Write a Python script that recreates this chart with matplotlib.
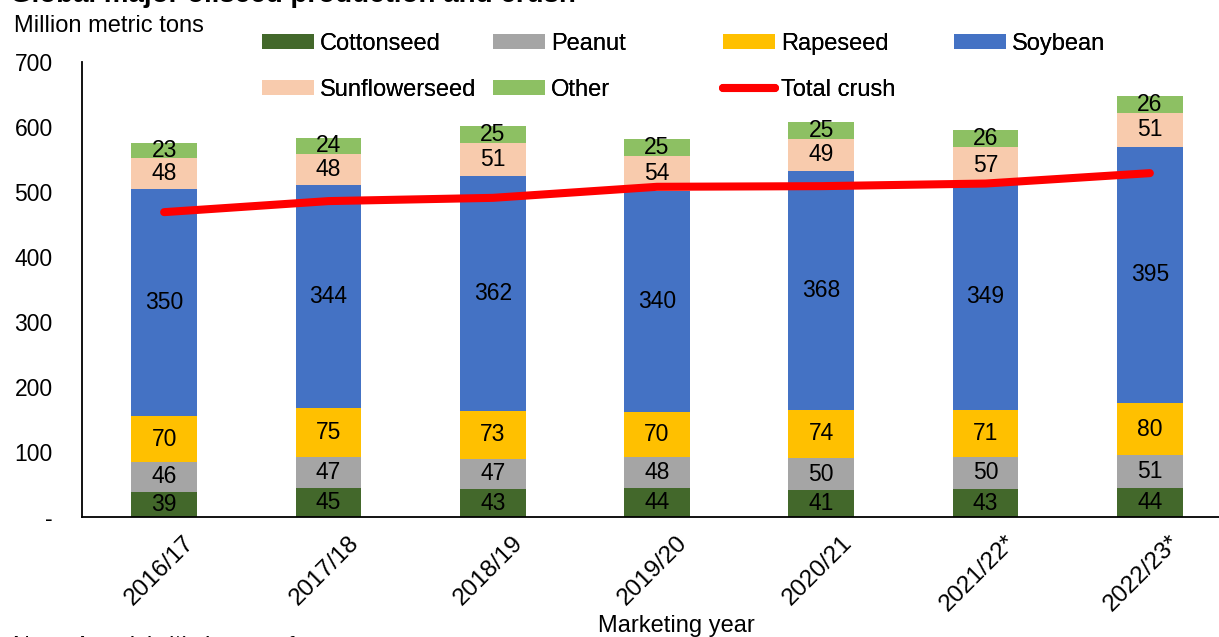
"""Stacked oilseed production bars with the total crush line."""

import matplotlib

matplotlib.use("Agg")
import matplotlib.pyplot as plt
import matplotlib.transforms as mtransforms
import numpy as np
from matplotlib.lines import Line2D
from matplotlib.patches import Patch

years = ["2016/17", "2017/18", "2018/19", "2019/20", "2020/21", "2021/22*", "2022/23*"]
cottonseed = [39, 45, 43, 44, 41, 43, 44]
peanut = [46, 47, 47, 48, 50, 50, 51]
rapeseed = [70, 75, 73, 70, 74, 71, 80]
soybean = [350, 344, 362, 340, 368, 349, 395]
sunflowerseed = [48, 48, 51, 54, 49, 57, 51]
other = [23, 24, 25, 25, 25, 26, 26]
total_crush = [469, 486, 491, 508, 509, 513, 529]

ytick_values = [0, 100, 200, 300, 400, 500, 600, 700]
ytick_labels = ["-", "100", "200", "300", "400", "500", "600", "700"]

series = [
    ("Cottonseed", cottonseed, "#43682B"),
    ("Peanut", peanut, "#A5A5A5"),
    ("Rapeseed", rapeseed, "#FFC000"),
    ("Soybean", soybean, "#4472C4"),
    ("Sunflowerseed", sunflowerseed, "#F8CBAD"),
    ("Other", other, "#8DC063"),
]

plt.rcParams["font.family"] = ["Liberation Sans", "DejaVu Sans"]

W, H = 1219, 637
fig = plt.figure(figsize=(W / 100, H / 100), dpi=100)
ax = fig.add_axes([82 / W, (H - 517) / H, 1150 / W, 455 / H])

x = np.arange(len(years))
bottom = np.zeros(len(years))
handles = {}
for name, values, color in series:
    bars = ax.bar(x, values, width=0.4, bottom=bottom, color=color,
                  edgecolor="none", zorder=2)
    ax.bar_label(bars, labels=[str(v) for v in values], label_type="center",
                 fontsize=16.5, color="black", zorder=4)
    handles[name] = Patch(facecolor=color, edgecolor="none")
    bottom += np.array(values)

ax.plot(x, total_crush, color="#FF0000", lw=5.8, solid_capstyle="round",
        solid_joinstyle="round", zorder=3)
handles["Total crush"] = Line2D([], [], color="#FF0000", lw=5.8,
                                solid_capstyle="round")

ax.set_xlim(-0.5, len(years) - 0.5)
ax.set_ylim(0, 700)
ax.set_yticks(ytick_values)
ax.set_yticklabels(ytick_labels, fontsize=16.5)
ax.tick_params(axis="y", length=0, pad=21)
ax.set_xticks(x)
ax.set_xticklabels(years, fontsize=17.5, rotation=45, ha="right",
                   va="center", rotation_mode="anchor")
ax.tick_params(axis="x", length=0, pad=16)
shift = mtransforms.ScaledTranslation(0.27, 0, fig.dpi_scale_trans)
for label in ax.get_xticklabels():
    label.set_transform(label.get_transform() + shift)

for side in ("top", "right"):
    ax.spines[side].set_visible(False)
for side in ("left", "bottom"):
    ax.spines[side].set_color("black")
    ax.spines[side].set_linewidth(1.3)

# Excel-style legend: four fixed-width columns of two rows
columns = [
    (262, ["Cottonseed", "Sunflowerseed"]),
    (493, ["Peanut", "Other"]),
    (723, ["Rapeseed", "Total crush"]),
    (954, ["Soybean"]),
]
for left, names in columns:
    leg = fig.legend([handles[n] for n in names], names, loc="upper left",
                     bbox_to_anchor=(left / W, 1 - 33 / H), frameon=False,
                     fontsize=17, handlelength=2.2, handleheight=0.6,
                     handletextpad=0.25, labelspacing=1.0, borderpad=0,
                     borderaxespad=0)
    fig.add_artist(leg)

fig.text(14 / W, 1 - 26 / H, "Million metric tons", fontsize=17, va="center")
fig.text(676 / W, 1 - 626 / H, "Marketing year", fontsize=17,
         ha="center", va="center")
# title and footnote are clipped by the frame, as in the source image
fig.text(10 / W, 1 - 2 / H, "Global major oilseed production and crush",
         fontsize=20, fontweight="bold", va="baseline")
fig.text(13 / W, -16 / H, "Note: Asterisk (*) denotes forecast.", fontsize=17,
         va="baseline")

fig.savefig("out.png", dpi=100)
